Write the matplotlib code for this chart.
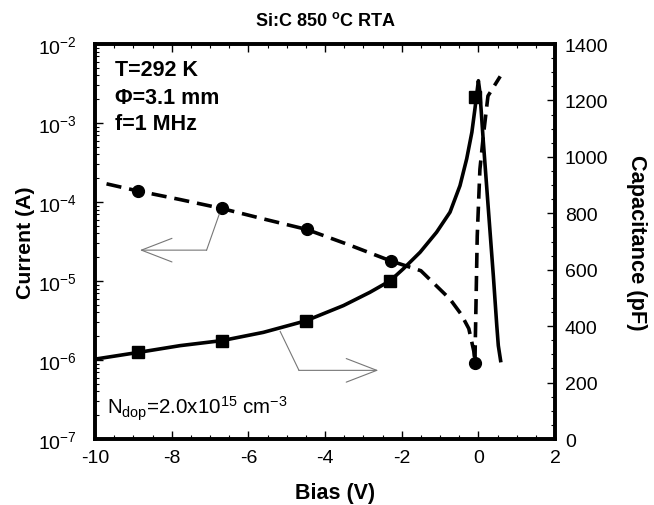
import matplotlib
matplotlib.use("Agg")
import matplotlib.pyplot as plt
from matplotlib.ticker import MultipleLocator, LogLocator, NullFormatter

plt.rcParams["font.family"] = ["Liberation Sans", "DejaVu Sans"]
plt.rcParams["mathtext.fontset"] = "custom"
plt.rcParams["mathtext.rm"] = "Liberation Sans"
plt.rcParams["mathtext.bf"] = "Liberation Sans:bold"
plt.rcParams["mathtext.it"] = "Liberation Sans:italic"
plt.rcParams["axes.unicode_minus"] = False

# ---- data ----
# current (left, log axis) - dashed line with circles
bias_i = [-9.7, -8.88, -7.8, -6.70, -5.6, -4.48, -3.4, -2.29, -1.5, -0.74,
          -0.45, -0.25, -0.12, -0.09, -0.03, 0.04, 0.13, 0.25, 0.57]
current = [1.7e-4, 1.38e-4, 1.08e-4, 8.3e-5, 6.1e-5, 4.5e-5, 2.9e-5, 1.8e-5,
           1.35e-5, 5.9e-6, 3.8e-6, 2.5e-6, 1.3e-6, 9.3e-7, 3.7e-5, 2.6e-4,
           6.9e-4, 2.2e-3, 3.9e-3]
bias_i_mk = [-8.88, -6.70, -4.48, -2.29, -0.09]
current_mk = [1.38e-4, 8.3e-5, 4.5e-5, 1.8e-5, 9.3e-7]

# capacitance (right axis) - solid line with squares
bias_c = [-9.96, -8.87, -7.78, -6.68, -5.61, -4.50, -3.52, -2.83, -2.30,
          -1.96, -1.52, -1.09, -0.74, -0.48, -0.305, -0.17, -0.09, 0.0,
          0.04, 0.13, 0.26, 0.39, 0.48, 0.52, 0.58]
cap = [284, 307, 331, 349, 378, 419, 473, 520, 561, 603, 662, 733, 804, 898,
       993, 1087, 1170, 1270, 1229, 1052, 815, 579, 402, 331, 278]
bias_c_mk = [-8.87, -6.68, -4.50, -2.30, -0.10]
cap_mk = [307, 349, 419, 561, 1211]

fig = plt.figure(figsize=(6.54, 5.06), dpi=100)
ax1 = fig.add_axes([0.1453, 0.1304, 0.7034, 0.7806])
ax2 = ax1.twinx()

lw = 2.6
ax1.plot(bias_i, current, color="black", lw=lw, linestyle=(0, (4.2, 2.2)))
ax1.plot(bias_i_mk, current_mk, "o", color="black", ms=8.5)
ax2.plot(bias_c, cap, color="black", lw=lw)
ax2.plot(bias_c_mk, cap_mk, "s", color="black", ms=8.5)

ax1.set_yscale("log")
ax1.set_xlim(-10, 2)
ax1.set_ylim(1e-7, 1e-2)
ax2.set_ylim(0, 1400)

ax1.xaxis.set_major_locator(MultipleLocator(2))
ax1.xaxis.set_minor_locator(MultipleLocator(0.5))
ax1.yaxis.set_major_locator(LogLocator(base=10, numticks=10))
ax1.yaxis.set_minor_locator(LogLocator(base=10, subs=range(2, 10), numticks=10))
ax1.yaxis.set_minor_formatter(NullFormatter())
ax2.yaxis.set_major_locator(MultipleLocator(200))
ax2.yaxis.set_minor_locator(MultipleLocator(50))

ax1.tick_params(axis="x", which="both", direction="in", top=True, labelsize=14, pad=7)
ax1.tick_params(axis="y", which="both", direction="in", labelsize=14, pad=13)
ax1.tick_params(which="major", length=6, width=1)
ax1.tick_params(which="minor", length=3, width=0.8)
ax2.tick_params(axis="y", which="both", direction="in", labelsize=14, pad=7)
ax2.tick_params(which="major", length=6, width=1)
ax2.tick_params(which="minor", length=3, width=0.8)

for ax in (ax1, ax2):
    for sp in ax.spines.values():
        sp.set_linewidth(2.6)

ax1.set_xlabel("Bias (V)", fontsize=15.5, fontweight="bold")
ax1.xaxis.set_label_coords(0.522, -0.109)
ax1.set_ylabel("Current (A)", fontsize=15.3, fontweight="bold", labelpad=2)
ax2.set_ylabel("Capacitance (pF)", fontsize=15.7, fontweight="bold",
               rotation=270, labelpad=28)
ax1.set_title(r"Si:C 850 $^{\mathbf{o}}$C RTA", fontsize=13, fontweight="bold", pad=14)

# annotations
ax1.text(0.044, 0.935, "T=292 K", transform=ax1.transAxes, fontsize=15.5,
         fontweight="bold", va="center")
ax1.text(0.044, 0.865, "\u03a6=3.1 mm", transform=ax1.transAxes, fontsize=15.5,
         fontweight="bold", va="center")
ax1.text(0.044, 0.80, "f=1 MHz", transform=ax1.transAxes, fontsize=15.5,
         fontweight="bold", va="center")
ax1.text(0.026, 0.08, r"N$_{\rm dop}$=2.0x10$^{15}$ cm$^{-3}$", transform=ax1.transAxes,
         fontsize=14.8, va="center")

arrow = dict(arrowstyle="->,head_length=2.2,head_width=0.85", color="#777777", lw=0.8,
             shrinkA=0, shrinkB=0)
ax1.plot([-6.76, -7.09], [7.0e-5, 2.46e-5], color="#777777", lw=0.8)
ax1.annotate("", xy=(-8.83, 2.46e-5), xytext=(-7.09, 2.46e-5), arrowprops=arrow)
ax1.plot([-5.17, -4.68], [2.3e-6, 7.4e-7], color="#777777", lw=0.8)
ax1.annotate("", xy=(-2.61, 7.4e-7), xytext=(-4.68, 7.4e-7), arrowprops=arrow)

fig.savefig("out.png", dpi=100)
